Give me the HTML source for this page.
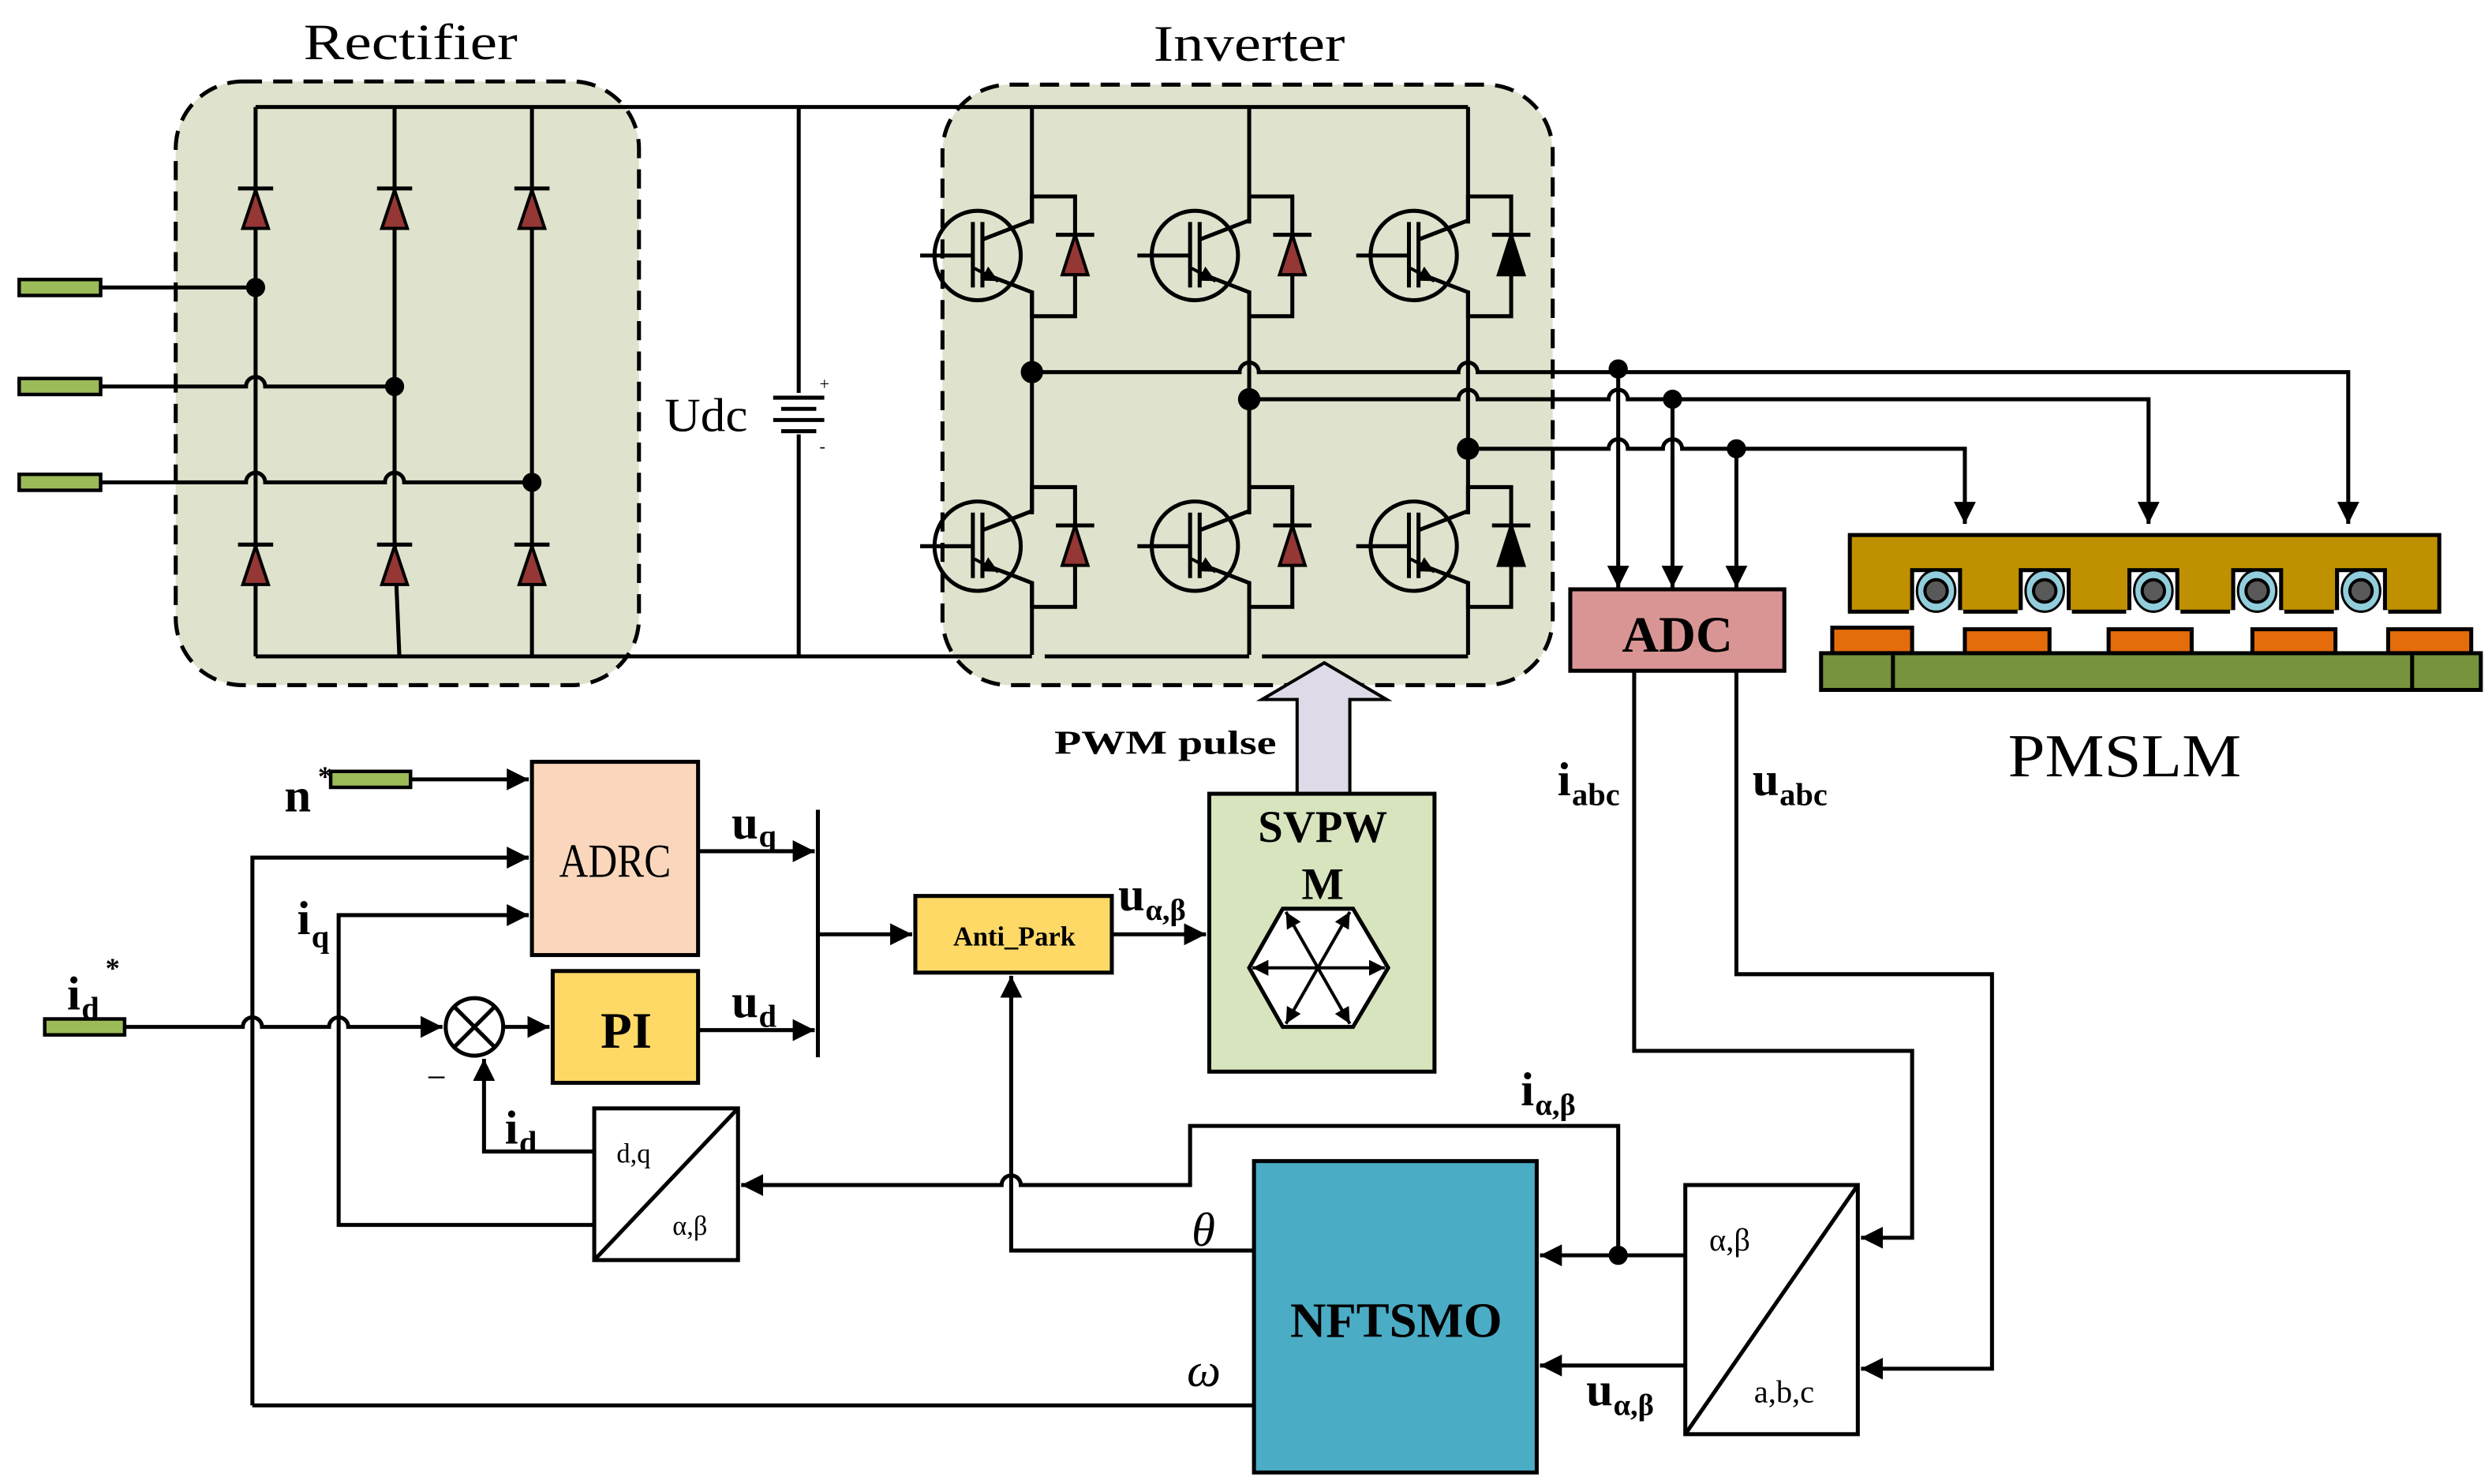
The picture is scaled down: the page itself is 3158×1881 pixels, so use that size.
<!DOCTYPE html>
<html><head><meta charset="utf-8"><style>html,body{margin:0;padding:0;background:#fff}svg{display:block}text{font-family:"Liberation Serif",serif}</style></head><body>
<svg width="3158" height="1881" viewBox="0 0 1560 929.2" preserveAspectRatio="none" xmlns="http://www.w3.org/2000/svg">
<defs>
<marker id="a" viewBox="0 0 10 10" refX="10" refY="5" markerWidth="5.5" markerHeight="5.5" orient="auto" markerUnits="strokeWidth"><path d="M0,0L10,5L0,10z" fill="#000"/></marker>
<marker id="s" viewBox="0 0 10 10" refX="10" refY="5" markerWidth="5" markerHeight="5" orient="auto" markerUnits="strokeWidth"><path d="M0,0L10,5L0,10z" fill="#000"/></marker>
<g id="igbt">
<ellipse cx="-34" cy="0" rx="27" ry="28" fill="none" stroke="#000" stroke-width="2.5"/>
<path d="M-70,0H-37M-37,-21V20M-31,-21V20" stroke="#000" stroke-width="2.5" fill="none"/>
<path d="M-31,-10L0,-22V-37H27V38H0V23L-31,11" stroke="#000" stroke-width="2.5" fill="none"/>
<path d="M-36,8L-21,16" stroke="#000" stroke-width="2" marker-end="url(#s)"/>
</g>
</defs>
<g fill="none" stroke="#000" stroke-width="2.5">
<rect x="110" y="51" width="290" height="378" rx="42" fill="#dfe3cd" stroke-dasharray="12,7"/>
<rect x="590" y="53" width="382" height="376" rx="42" fill="#dfe3cd" stroke-dasharray="12,7"/>
<path d="M160,67H500M160,411H500M160,67V411M247,67V338M247,338L250,411M333,67V411M500,67V411M500,67H919M500,411H646M654,411H782M790,411H919"/>
<path d="M646,67V410M782,67V410M919,67V410"/>
<path d="M63,180H160"/>
<path d="M63,242H154a6,6 0 0 1 12,0H247"/>
<path d="M63,302H154a6,6 0 0 1 12,0H241a6,6 0 0 1 12,0H333"/>
</g>
<g fill="#9bbb59" stroke="#000" stroke-width="2.2">
<rect x="12" y="175" width="51" height="10"/><rect x="12" y="237" width="51" height="10"/><rect x="12" y="297" width="51" height="10"/>
<rect x="207" y="483" width="50" height="10"/><rect x="28" y="638" width="50" height="10"/>
</g>
<g fill="#000"><circle cx="160" cy="180" r="6"/><circle cx="247" cy="242" r="6"/><circle cx="333" cy="302" r="6"/></g>
<g fill="#953735" stroke="#000" stroke-width="2">
<path d="M152,143L160,119L168,143z"/>
<path d="M239,143L247,119L255,143z"/>
<path d="M325,143L333,119L341,143z"/>
<path d="M152,366L160,342L168,366z"/>
<path d="M239,366L247,342L255,366z"/>
<path d="M325,366L333,342L341,366z"/>
</g>
<g stroke="#000" stroke-width="2.5"><path d="M149,118H171M236,118H258M322,118H344M149,341H171M236,341H258M322,341H344"/></g>
<g stroke="#dfe3cd" stroke-width="4"><path d="M646,140V182M782,140V182M919,140V182M646,322V364M782,322V364M919,322V364"/></g>
<use href="#igbt" x="646" y="160"/><use href="#igbt" x="782" y="160"/><use href="#igbt" x="919" y="160"/>
<use href="#igbt" x="646" y="342"/><use href="#igbt" x="782" y="342"/><use href="#igbt" x="919" y="342"/>
<g stroke="#dfe3cd" stroke-width="6"><path d="M673,150V170M809,150V170M946,150V170M673,332V352M809,332V352M946,332V352"/></g>
<g stroke="#000" stroke-width="2"><path d="M665,172L673,147L681,172z" fill="#953735"/><path d="M801,172L809,147L817,172z" fill="#953735"/><path d="M938,172L946,147L954,172z" fill="#000"/>
<path d="M665,354L673,329L681,354z" fill="#953735"/><path d="M801,354L809,329L817,354z" fill="#953735"/><path d="M938,354L946,329L954,354z" fill="#000"/></g>
<g stroke="#000" stroke-width="2.5"><path d="M661,147H685M797,147H821M934,147H958M661,329H685M797,329H821M934,329H958"/></g>
<rect x="484" y="246" width="32" height="26" fill="#fff"/>
<g stroke="#000" stroke-width="2.5"><path d="M484,249H516M489,256H511M484,263H516M489,270H511"/></g>
<text x="513" y="244" font-size="11">+</text><text x="513" y="283" font-size="11">-</text>
<text x="416" y="270" font-size="30" textLength="52" lengthAdjust="spacingAndGlyphs">Udc</text>
<text x="190" y="37" font-size="32" textLength="134" lengthAdjust="spacingAndGlyphs">Rectifier</text>
<text x="722" y="38" font-size="32" textLength="120" lengthAdjust="spacingAndGlyphs">Inverter</text>
<g fill="none" stroke="#000" stroke-width="2.5">
<path d="M646,233H776a6,6 0 0 1 12,0H913a6,6 0 0 1 12,0H1470V328" marker-end="url(#a)"/>
<path d="M782,250H913a6,6 0 0 1 12,0H1007a6,6 0 0 1 12,0H1345V328" marker-end="url(#a)"/>
<path d="M919,281H1007a6,6 0 0 1 12,0H1041a6,6 0 0 1 12,0H1230V328" marker-end="url(#a)"/>
<path d="M1013,231V368" marker-end="url(#a)"/>
<path d="M1047,250V368" marker-end="url(#a)"/>
<path d="M1087,281V368" marker-end="url(#a)"/>
</g>
<g fill="#000"><circle cx="646" cy="233" r="7"/><circle cx="782" cy="250" r="7"/><circle cx="919" cy="281" r="7"/><circle cx="1013" cy="231" r="6"/><circle cx="1047" cy="250" r="6"/><circle cx="1087" cy="281" r="6"/></g>
<rect x="983" y="369" width="134" height="51" fill="#d99594" stroke="#000" stroke-width="2.5"/>
<text x="1050" y="408" font-size="32" font-weight="bold" text-anchor="middle">ADC</text>
<rect x="1158" y="335" width="369" height="48" fill="#bf9000" stroke="#000" stroke-width="2.5"/>
<g>
<rect x="1197" y="357" width="30" height="28" fill="#fff" stroke="#000" stroke-width="2.5"/>
<rect x="1265" y="357" width="30" height="28" fill="#fff" stroke="#000" stroke-width="2.5"/>
<rect x="1333" y="357" width="30" height="28" fill="#fff" stroke="#000" stroke-width="2.5"/>
<rect x="1398" y="357" width="30" height="28" fill="#fff" stroke="#000" stroke-width="2.5"/>
<rect x="1463" y="357" width="30" height="28" fill="#fff" stroke="#000" stroke-width="2.5"/>
<rect x="1195" y="382" width="34" height="5" fill="#fff"/><rect x="1263" y="382" width="34" height="5" fill="#fff"/><rect x="1331" y="382" width="34" height="5" fill="#fff"/><rect x="1396" y="382" width="34" height="5" fill="#fff"/><rect x="1461" y="382" width="34" height="5" fill="#fff"/>
</g>
<g stroke="#000" stroke-width="1.5">
<g fill="#92cddc"><ellipse cx="1212" cy="370" rx="12" ry="13"/><ellipse cx="1280" cy="370" rx="12" ry="13"/><ellipse cx="1348" cy="370" rx="12" ry="13"/><ellipse cx="1413" cy="370" rx="12" ry="13"/><ellipse cx="1478" cy="370" rx="12" ry="13"/></g>
<g fill="#595959" stroke-width="2"><circle cx="1212" cy="370" r="7"/><circle cx="1280" cy="370" r="7"/><circle cx="1348" cy="370" r="7"/><circle cx="1413" cy="370" r="7"/><circle cx="1478" cy="370" r="7"/></g>
</g>
<g fill="#e46c0a" stroke="#000" stroke-width="2.5">
<rect x="1147" y="393" width="50" height="16"/><rect x="1230" y="394" width="53" height="15"/><rect x="1320" y="394" width="52" height="15"/><rect x="1410" y="394" width="52" height="15"/><rect x="1495" y="394" width="52" height="15"/>
</g>
<rect x="1140" y="409" width="413" height="23" fill="#77933c" stroke="#000" stroke-width="2.5"/>
<path d="M1185,409V432M1510,409V432" stroke="#000" stroke-width="2.5"/>
<text x="1330" y="486" font-size="38" text-anchor="middle" textLength="146" lengthAdjust="spacingAndGlyphs">PMSLM</text>
<path d="M812,497V438H790L829,415L868,438H845V497z" fill="#dfdae8" stroke="#000" stroke-width="2"/>
<text x="660" y="472" font-size="21" font-weight="bold" textLength="139" lengthAdjust="spacingAndGlyphs">PWM pulse</text>
<rect x="757" y="497" width="141" height="174" fill="#d7e4bd" stroke="#000" stroke-width="2.5"/>
<text x="828" y="527" font-size="28" font-weight="bold" text-anchor="middle">SVPW</text>
<text x="828" y="563" font-size="28" font-weight="bold" text-anchor="middle">M</text>
<path d="M803,569H847L869,606L847,643H803L782,606z" fill="#fff" stroke="#000" stroke-width="2.5"/>
<g stroke="#000" stroke-width="2" marker-end="url(#s)">
<path d="M825,606L784,606"/><path d="M825,606L867,606"/><path d="M825,606L805,571"/><path d="M825,606L845,571"/><path d="M825,606L805,641"/><path d="M825,606L845,641"/>
</g>
<rect x="333" y="477" width="104" height="121" fill="#fad7bc" stroke="#000" stroke-width="2.5"/>
<text x="385" y="549" font-size="30" text-anchor="middle" textLength="70" lengthAdjust="spacingAndGlyphs">ADRC</text>
<rect x="346" y="608" width="91" height="70" fill="#ffd966" stroke="#000" stroke-width="2.5"/>
<text x="392" y="656" font-size="32" font-weight="bold" text-anchor="middle">PI</text>
<rect x="573" y="561" width="123" height="48" fill="#ffd966" stroke="#000" stroke-width="2.5"/>
<text x="635" y="592" font-size="17" font-weight="bold" text-anchor="middle">Anti_Park</text>
<rect x="785" y="727" width="177" height="195" fill="#4bacc6" stroke="#000" stroke-width="2.5"/>
<text x="874" y="837" font-size="31" font-weight="bold" text-anchor="middle">NFTSMO</text>
<rect x="372" y="694" width="90" height="95" fill="#fff" stroke="#000" stroke-width="2.5"/>
<path d="M372,789L462,694" stroke="#000" stroke-width="2.5"/>
<text x="386" y="728" font-size="17">d,q</text><text x="421" y="773" font-size="17">α,β</text>
<rect x="1055" y="742" width="108" height="156" fill="#fff" stroke="#000" stroke-width="2.5"/>
<path d="M1055,898L1163,742" stroke="#000" stroke-width="2.5"/>
<text x="1070" y="783" font-size="20">α,β</text><text x="1098" y="878" font-size="20">a,b,c</text>
<circle cx="297" cy="643" r="18" fill="#fff" stroke="#000" stroke-width="2.5"/>
<path d="M284,630L310,656M310,630L284,656" stroke="#000" stroke-width="2.5"/>
<g fill="none" stroke="#000" stroke-width="2.5">
<path d="M257,488H331" marker-end="url(#a)"/>
<path d="M158,880V537H331" marker-end="url(#a)"/>
<path d="M372,767H212V573H331" marker-end="url(#a)"/>
<path d="M78,643H152a6,6 0 0 1 12,0H206a6,6 0 0 1 12,0H277" marker-end="url(#a)"/>
<path d="M315,643H344" marker-end="url(#a)"/>
<path d="M372,721H303V663" marker-end="url(#a)"/>
<path d="M437,533H510" marker-end="url(#a)"/>
<path d="M437,645H510" marker-end="url(#a)"/>
<path d="M512,507V662"/>
<path d="M512,585H571" marker-end="url(#a)"/>
<path d="M696,585H755" marker-end="url(#a)"/>
<path d="M785,783H633V611" marker-end="url(#a)"/>
<path d="M785,880H158"/>
<path d="M1013,786V705H745V742H639a6,6 0 0 0 -12,0H464" marker-end="url(#a)"/>
<path d="M1055,786H964" marker-end="url(#a)"/>
<path d="M1055,855H964" marker-end="url(#a)"/>
<path d="M1023,420V658H1197V775H1165" marker-end="url(#a)"/>
<path d="M1087,420V610H1247V857H1165" marker-end="url(#a)"/>
</g>
<circle cx="1013" cy="786" r="6" fill="#000"/>
<g font-weight="bold">
<text x="178" y="508" font-size="30">n</text><text x="199" y="492" font-size="18">*</text>
<text x="42" y="632" font-size="30">i</text><text x="51" y="638" font-size="20">d</text><text x="66" y="612" font-size="18">*</text>
<text x="186" y="585" font-size="30">i</text><text x="195" y="593" font-size="20">q</text>
<text x="316" y="716" font-size="30">i</text><text x="325" y="722" font-size="20">d</text>
<text x="458" y="525" font-size="30">u</text><text x="475" y="530" font-size="20">q</text>
<text x="458" y="637" font-size="30">u</text><text x="475" y="643" font-size="20">d</text>
<text x="700" y="570" font-size="30">u</text><text x="717" y="576" font-size="19">α,β</text>
<text x="975" y="498" font-size="30">i</text><text x="984" y="504" font-size="20">abc</text>
<text x="1097" y="498" font-size="30">u</text><text x="1114" y="504" font-size="20">abc</text>
<text x="952" y="692" font-size="30">i</text><text x="961" y="698" font-size="19">α,β</text>
<text x="993" y="880" font-size="30">u</text><text x="1010" y="886" font-size="19">α,β</text>
</g>
<text x="267" y="682" font-size="22">−</text>
<text x="746" y="780" font-size="30" font-style="italic">θ</text>
<text x="743" y="868" font-size="30" font-style="italic">ω</text>
</svg>
</body></html>
